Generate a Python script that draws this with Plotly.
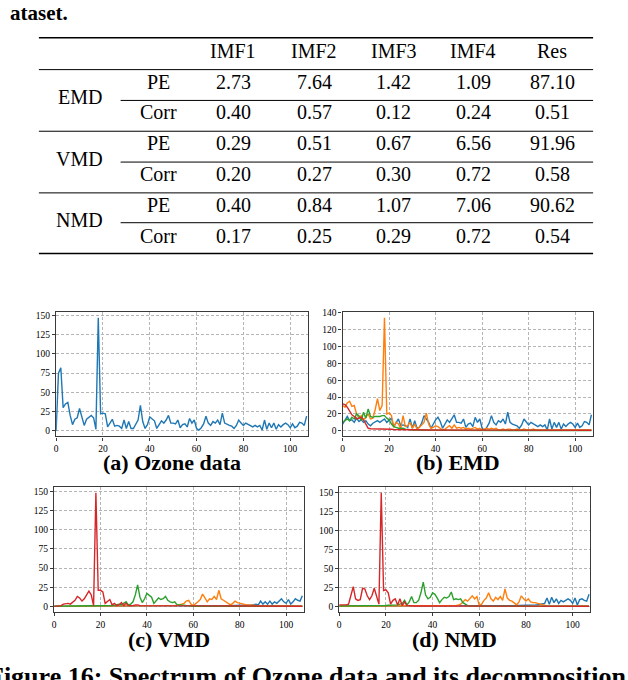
import plotly.graph_objects as go

W, H = 628, 680

# ---------------- table data ----------------
col_names = ["IMF1", "IMF2", "IMF3", "IMF4", "Res"]
methods = ["EMD", "VMD", "NMD"]
metrics = ["PE", "Corr"]
emd_pe = [2.73, 7.64, 1.42, 1.09, 87.10]
emd_corr = [0.40, 0.57, 0.12, 0.24, 0.51]
vmd_pe = [0.29, 0.51, 0.67, 6.56, 91.96]
vmd_corr = [0.20, 0.27, 0.30, 0.72, 0.58]
nmd_pe = [0.40, 0.84, 1.07, 7.06, 90.62]
nmd_corr = [0.17, 0.25, 0.29, 0.72, 0.54]

# ---------------- spectrum data ----------------
freq = list(range(108))

ozone = [0, 75, 82, 30, 35, 37, 20, 8, 15, 17,
         29, 17, 7, 15, 18, 20, 17, 2, 147, 22,
         23, 22, 5, 10, 15, 6, 7, 6, 3, 14,
         3, 12, 3, 3, 8, 14, 33, 12, 3, 8,
         18, 16, 13, 3, 9, 13, 10, 14, 20, 10,
         10, 9, 14, 4, 8, 9, 5, 16, 10, 14,
         3, 1, 4, 9, 19, 10, 7, 12, 10, 14,
         8, 23, 10, 8, 7, 6, 3, 7, 14, 10,
         7, 10, 8, 6, 5, 7, 5, 7, 1, 14,
         2, 10, 4, 10, 2, 8, 5, 8, 10, 8,
         4, 9, 4, 6, 11, 10, 7, 19]

emd_imf1 = [8, 12, 17, 12, 13, 10, 15, 11, 13, 10,
            12, 8, 6, 9, 11, 12, 10, 12, 14, 10,
            12, 15, 5, 9, 14, 6, 7, 6, 4, 14,
            3, 12, 3, 4, 9, 18, 14, 10, 3, 8,
            13, 16, 11, 3, 9, 13, 10, 14, 19, 10,
            10, 9, 14, 4, 8, 9, 5, 16, 10, 14,
            3, 1, 4, 9, 18, 10, 7, 12, 10, 14,
            8, 22, 10, 8, 7, 6, 3, 7, 14, 10,
            7, 10, 8, 6, 5, 7, 5, 7, 1, 14,
            2, 10, 4, 10, 2, 8, 5, 8, 10, 8,
            4, 9, 4, 6, 11, 10, 7, 19]
emd_imf2 = [30, 28, 33, 35, 29, 30, 20, 15, 18, 13,
            16, 20, 14, 15, 25, 38, 24, 30, 134, 20,
            21, 18, 4, 10, 8, 3, 18, 5, 6, 10,
            3, 8, 2, 4, 7, 10, 21, 8, 3, 4,
            6, 5, 3, 1, 2, 4, 6, 3, 7, 3,
            4, 3, 4, 2, 3, 2, 3, 4, 2, 3,
            1, 2, 3, 2, 3, 2, 3, 1, 1, 2,
            1, 2, 2, 1, 1, 2, 1, 1, 2, 1,
            1, 1, 2, 1, 1, 1, 1, 1, 1, 1,
            1, 1, 1, 1, 1, 1, 1, 1, 1, 1,
            1, 1, 1, 1, 1, 1, 1, 1]
emd_imf3 = [10, 12, 14, 12, 16, 14, 20, 18, 12, 22,
            15, 26, 17, 16, 17, 17, 17, 18, 18, 15,
            13, 8, 5, 4, 3, 3, 3, 2, 1.5, 1.2,
            1, 1, 0.9, 0.9, 0.8, 0.8, 0.8, 0.7, 0.7, 0.7,
            0.6, 0.6, 0.6, 0.6, 0.5, 0.5, 0.5, 0.5, 0.5, 0.5,
            0.5, 0.5, 0.5, 0.5, 0.5, 0.5, 0.5, 0.5, 0.5, 0.5,
            0.4, 0.4, 0.4, 0.4, 0.4, 0.4, 0.4, 0.4, 0.4, 0.4,
            0.4, 0.4, 0.4, 0.4, 0.4, 0.4, 0.4, 0.4, 0.4, 0.4,
            0.4, 0.4, 0.4, 0.4, 0.4, 0.4, 0.4, 0.4, 0.4, 0.4,
            0.3, 0.3, 0.3, 0.3, 0.3, 0.3, 0.3, 0.3, 0.3, 0.3,
            0.3, 0.3, 0.3, 0.3, 0.3, 0.3, 0.3, 0.3]
emd_imf4 = [32, 31, 28, 24, 19, 17, 14, 15, 16, 13,
            7, 3, 2.5, 2.5, 2.5, 2.2, 2, 2, 2, 2,
            1.8, 1.8, 1.6, 1.5, 1.5, 1.4, 1.3, 1.2, 1.2, 1.1,
            1.1, 1, 1, 1, 1, 1, 1, 1, 1, 1,
            0.9, 0.9, 0.9, 0.9, 0.9, 0.9, 0.9, 0.9, 0.9, 0.9,
            0.9, 0.9, 0.9, 0.9, 0.9, 0.9, 0.9, 0.9, 0.9, 0.9,
            0.8, 0.8, 0.8, 0.8, 0.8, 0.8, 0.8, 0.8, 0.8, 0.8,
            0.8, 0.8, 0.8, 0.8, 0.8, 0.8, 0.8, 0.8, 0.8, 0.8,
            0.7, 0.7, 0.7, 0.7, 0.7, 0.7, 0.7, 0.7, 0.7, 0.7,
            0.7, 0.7, 0.7, 0.7, 0.7, 0.7, 0.7, 0.7, 0.7, 0.7,
            0.6, 0.6, 0.6, 0.6, 0.6, 0.6, 0.6, 0.6]

vmd_imf1 = [0.1, 0.1, 0.1, 0.1, 0.1, 0.1, 0.1, 0.1, 0.1, 0.1,
            0.1, 0.1, 0.1, 0.1, 0.1, 0.1, 0.1, 0.1, 0.2, 0.1,
            0.1, 0.1, 0.1, 0.1, 0.1, 0.1, 0.1, 0.1, 0.1, 0.1,
            0.1, 0.1, 0.1, 0.1, 0.1, 0.1, 0.1, 0.1, 0.1, 0.1,
            0.1, 0.1, 0.1, 0.1, 0.1, 0.1, 0.2, 0.2, 0.2, 0.2,
            0.2, 0.3, 0.3, 0.3, 0.4, 0.4, 0.5, 0.5, 0.5, 0.5,
            0.5, 0.6, 0.6, 0.6, 0.7, 0.7, 0.7, 0.8, 0.8, 0.8,
            0.9, 0.9, 1.0, 1.0, 1.0, 1.1, 1.1, 1.2, 1.2, 1.3,
            1.3, 1.4, 1.5, 1.6, 1.8, 2.0, 2.2, 3, 2, 7,
            3, 6, 3, 7, 3, 6, 4, 7, 10, 6,
            4, 9, 3, 6, 10, 8, 7, 14]
vmd_imf2 = [0.1, 0.1, 0.1, 0.1, 0.1, 0.1, 0.1, 0.1, 0.1, 0.1,
            0.1, 0.1, 0.1, 0.1, 0.1, 0.1, 0.1, 0.1, 0.1, 0.1,
            0.1, 0.1, 0.1, 0.1, 0.1, 0.1, 0.1, 0.1, 0.1, 0.1,
            0.1, 0.1, 0.1, 0.1, 0.1, 0.1, 0.1, 0.2, 0.2, 0.2,
            0.2, 0.2, 0.3, 0.3, 0.3, 0.4, 0.4, 0.5, 0.5, 0.6,
            0.7, 0.8, 1, 1.5, 2, 3, 4, 7, 8, 3,
            1, 3, 6, 9, 16, 11, 6, 10, 9, 13,
            9, 21, 10, 8, 6, 5, 2, 4, 7, 5,
            4, 3, 3, 2, 2, 2, 1.5, 1, 1, 0.8,
            0.7, 0.6, 0.5, 0.5, 0.4, 0.4, 0.4, 0.3, 0.3, 0.3,
            0.3, 0.3, 0.2, 0.2, 0.2, 0.2, 0.2, 0.2]
vmd_imf3 = [0.3, 0.3, 0.4, 0.4, 0.5, 0.5, 0.6, 0.6, 0.7, 0.8,
            1, 1, 0.8, 0.6, 0.5, 0.4, 0.3, 0.3, 0.3, 0.3,
            0.4, 0.5, 0.6, 0.8, 1, 1.2, 1.5, 2, 3, 2,
            4, 6, 2, 3, 6, 15, 28, 12, 5, 10,
            17, 15, 12, 4, 7, 11, 9, 10, 13, 8,
            6, 5, 6, 2, 2, 2, 1.5, 1, 0.5, 0.4,
            0.3, 0.3, 0.3, 0.3, 0.3, 0.2, 0.2, 0.2, 0.2, 0.2,
            0.2, 0.2, 0.2, 0.2, 0.2, 0.2, 0.2, 0.2, 0.2, 0.2,
            0.2, 0.2, 0.2, 0.2, 0.2, 0.2, 0.2, 0.2, 0.2, 0.2,
            0.2, 0.2, 0.2, 0.2, 0.2, 0.2, 0.2, 0.2, 0.2, 0.2,
            0.2, 0.2, 0.2, 0.2, 0.2, 0.2, 0.2, 0.2]
vmd_imf4 = [0, 0.5, 1, 1, 3, 4, 4, 3, 6, 8,
            13, 11, 7, 10, 15, 20, 15, 1, 148, 21,
            21, 19, 4, 6, 9, 2, 4, 1, 2, 5,
            1, 4, 1, 1, 1, 2, 2, 1, 1, 1,
            1, 0.8, 0.8, 0.7, 0.7, 0.6, 0.6, 0.6, 0.5, 0.5,
            0.5, 0.5, 0.5, 0.5, 0.5, 0.5, 0.5, 0.5, 0.5, 0.5,
            0.4, 0.4, 0.4, 0.4, 0.4, 0.4, 0.4, 0.4, 0.4, 0.4,
            0.4, 0.4, 0.4, 0.4, 0.4, 0.4, 0.4, 0.4, 0.4, 0.4,
            0.3, 0.3, 0.3, 0.3, 0.3, 0.3, 0.3, 0.3, 0.3, 0.3,
            0.3, 0.3, 0.3, 0.3, 0.3, 0.3, 0.3, 0.3, 0.3, 0.3,
            0.3, 0.3, 0.3, 0.3, 0.3, 0.3, 0.3, 0.3]

nmd_imf1 = [0.2, 0.2, 0.2, 0.2, 0.2, 0.2, 0.2, 0.2, 0.2, 0.2,
            0.2, 0.2, 0.2, 0.2, 0.2, 0.2, 0.2, 0.2, 0.2, 0.2,
            0.2, 0.2, 0.2, 0.2, 0.2, 0.2, 0.2, 0.2, 0.2, 0.2,
            0.2, 0.2, 0.2, 0.2, 0.2, 0.2, 0.2, 0.2, 0.2, 0.2,
            0.2, 0.2, 0.2, 0.2, 0.2, 0.2, 0.2, 0.2, 0.2, 0.2,
            0.3, 0.3, 0.3, 0.3, 0.3, 0.3, 0.3, 0.3, 0.3, 0.3,
            0.4, 0.4, 0.4, 0.5, 0.5, 0.5, 0.6, 0.7, 0.8, 0.8,
            0.9, 0.9, 1, 1, 1, 1.1, 1.1, 1.2, 1.2, 1.3,
            1.4, 1.5, 1.6, 1.8, 2, 2.2, 2.5, 3, 4, 11,
            3, 12, 5, 10, 4, 8, 6, 8, 10, 8,
            4, 11, 2, 9, 10, 8, 7, 16]
nmd_imf2 = [0.3, 0.3, 0.3, 0.3, 0.3, 0.3, 0.3, 0.3, 0.3, 0.3,
            0.3, 0.3, 0.3, 0.3, 0.3, 0.3, 0.3, 0.3, 0.3, 0.3,
            0.3, 0.3, 0.3, 0.3, 0.3, 0.3, 0.3, 0.3, 0.3, 0.3,
            0.3, 0.3, 0.3, 0.3, 0.3, 0.3, 0.3, 0.3, 0.3, 0.3,
            0.4, 0.4, 0.5, 0.5, 0.6, 0.6, 0.7, 0.8, 0.9, 1,
            1.2, 1.5, 3, 6, 9, 7, 10, 14, 10, 13,
            1, 3, 8, 11, 18, 10, 7, 12, 9, 13,
            8, 23, 11, 8, 7, 5, 2, 6, 14, 10,
            7, 10, 6, 5, 5, 4, 3, 2, 1, 0.5,
            0.4, 0.4, 0.4, 0.4, 0.4, 0.3, 0.3, 0.3, 0.3, 0.3,
            0.3, 0.3, 0.3, 0.3, 0.3, 0.3, 0.3, 0.3]
nmd_imf3 = [0.5, 0.5, 0.5, 0.6, 0.6, 0.6, 0.7, 0.7, 0.7, 0.8,
            0.8, 0.8, 0.9, 0.9, 1, 1, 1, 1, 1.2, 1.2,
            1.3, 1.5, 1.5, 1.8, 2, 2, 3, 4, 8, 2,
            6, 13, 5, 5, 8, 18, 32, 15, 10, 12,
            18, 16, 11, 5, 9, 12, 11, 13, 19, 9,
            10, 9, 10, 5, 3, 1, 0.5, 0.4, 0.3, 0.3,
            0.2, 0.2, 0.2, 0.2, 0.2, 0.2, 0.2, 0.2, 0.2, 0.2,
            0.2, 0.2, 0.2, 0.2, 0.2, 0.2, 0.2, 0.2, 0.2, 0.2,
            0.2, 0.2, 0.2, 0.2, 0.2, 0.2, 0.2, 0.2, 0.2, 0.2,
            0.2, 0.2, 0.2, 0.2, 0.2, 0.2, 0.2, 0.2, 0.2, 0.2,
            0.2, 0.2, 0.2, 0.2, 0.2, 0.2, 0.2, 0.2]
nmd_imf4 = [2, 2, 2, 2, 3, 15, 26, 10, 8, 9,
            24, 23, 14, 9, 14, 24, 14, 3, 150, 21,
            22, 18, 3, 8, 10, 2, 10, 1, 6, 1,
            1, 0.5, 0.5, 0.5, 0.5, 0.4, 0.4, 0.4, 0.4, 0.4,
            0.4, 0.4, 0.4, 0.4, 0.4, 0.4, 0.4, 0.4, 0.4, 0.4,
            0.3, 0.3, 0.3, 0.3, 0.3, 0.3, 0.3, 0.3, 0.3, 0.3,
            0.3, 0.3, 0.3, 0.3, 0.3, 0.3, 0.3, 0.3, 0.3, 0.3,
            0.3, 0.3, 0.3, 0.3, 0.3, 0.3, 0.3, 0.3, 0.3, 0.3,
            0.3, 0.3, 0.3, 0.3, 0.3, 0.3, 0.3, 0.3, 0.3, 0.3,
            0.3, 0.3, 0.3, 0.3, 0.3, 0.3, 0.3, 0.3, 0.3, 0.3,
            0.3, 0.3, 0.3, 0.3, 0.3, 0.3, 0.3, 0.3]

colors = ["#1f77b4", "#ff7f0e", "#2ca02c", "#d62728"]
SERIF = "Liberation Serif, Times New Roman, DejaVu Serif, serif"


def px(x):
    return x / W


def py(y):
    return 1 - y / H


fig = go.Figure()

# ---------------- spectrum panels ----------------
panels = [
    ("x", "y", [ozone], [-7.35, 154.35], 25),
    ("x2", "y2", [emd_imf1, emd_imf2, emd_imf3, emd_imf4], [-6.7, 140.7], 20),
    ("x3", "y3", [vmd_imf1, vmd_imf2, vmd_imf3, vmd_imf4], [-7.4, 155.4], 25),
    ("x4", "y4", [nmd_imf1, nmd_imf2, nmd_imf3, nmd_imf4], [-7.5, 157.5], 25),
]
for xa, ya, series, yr, dt in panels:
    for i, s in enumerate(series):
        fig.add_trace(go.Scatter(x=freq, y=s, mode="lines", xaxis=xa, yaxis=ya,
                                 line=dict(color=colors[i], width=1.4),
                                 showlegend=False, hoverinfo="skip"))

# frame boxes in pixels: left, right, top, bottom
boxes = [(54.3, 307, 310, 435), (341.7, 592.7, 310, 435),
         (52.3, 302.7, 486, 611.7), (338.3, 590.3, 486, 611.7)]


def axis_common():
    return dict(showgrid=True, gridcolor="#b5b5b5", griddash="3px,2px", gridwidth=0.8,
                showline=True, mirror=True, linecolor="#3a3a3a", linewidth=1.3,
                ticks="outside", ticklen=3, tickwidth=0.8, tickcolor="#3a3a3a",
                tickfont=dict(family=SERIF, size=9.5, color="black"),
                zeroline=False, fixedrange=True)


layout_axes = {}
for k, ((xa, ya, series, yr, dt), (l, r, t, b)) in enumerate(zip(panels, boxes)):
    sfx = "" if k == 0 else str(k + 1)
    layout_axes["xaxis" + sfx] = dict(axis_common(), domain=[px(l), px(r)], anchor=ya,
                                      range=[0, 107.6], tickvals=[0, 20, 40, 60, 80, 100])
    layout_axes["yaxis" + sfx] = dict(axis_common(), domain=[py(b), py(t)], anchor=xa,
                                      range=yr, dtick=dt, tick0=0)

# ---------------- table ----------------
annotations = []
shapes = []


def txt(x, y, s, size=20, bold=False, xanchor="center"):
    if bold:
        s = "<b>" + s + "</b>"
    annotations.append(dict(x=px(x), y=py(y - 3), xref="paper", yref="paper", text=s,
                            showarrow=False, xanchor=xanchor, yanchor="middle",
                            font=dict(family=SERIF, size=size, color="black")))


def rule(x0, x1, y, w=1.0):
    shapes.append(dict(type="line", xref="paper", yref="paper", x0=px(x0), x1=px(x1),
                       y0=py(y), y1=py(y), line=dict(color="black", width=w)))


col_x = [232, 313, 393, 473, 552]
row_y = [81, 112, 143, 174, 205, 236]
table_rows = [emd_pe, emd_corr, vmd_pe, vmd_corr, nmd_pe, nmd_corr]

txt(68, 12, "ataset.", size=21, bold=True, xanchor="right")
for cx, name in zip(col_x, col_names):
    txt(cx, 50, name)
for r, vals in enumerate(table_rows):
    txt(157, row_y[r], metrics[r % 2])
    for cx, v in zip(col_x, vals):
        txt(cx, row_y[r], f"{v:.2f}")
for m, name in enumerate(methods):
    txt(78, (row_y[2 * m] + row_y[2 * m + 1]) / 2, name)

rule(37, 593, 34, 1.6)
rule(37, 593, 66, 1.0)
rule(119, 593, 97, 1.0)
rule(37, 593, 128, 1.0)
rule(119, 593, 159, 1.0)
rule(37, 593, 190, 1.0)
rule(119, 593, 220, 1.0)
rule(37, 593, 251, 1.6)

# ---------------- captions ----------------
txt(171, 464, "(a) Ozone data", size=22, bold=True)
txt(457, 464, "(b) EMD", size=22, bold=True)
txt(168, 642, "(c) VMD", size=22, bold=True)
txt(454, 642, "(d) NMD", size=22, bold=True)
txt(-16, 679, "Figure 16: Spectrum of Ozone data and its decomposition results.",
    size=26, bold=True, xanchor="left")

fig.update_layout(width=W, height=H, margin=dict(l=0, r=0, t=0, b=0),
                  paper_bgcolor="white", plot_bgcolor="white",
                  annotations=annotations, shapes=shapes, **layout_axes)

fig.write_html("out.html", config={"displayModeBar": False},
               post_script="document.body.style.margin='0px';")
